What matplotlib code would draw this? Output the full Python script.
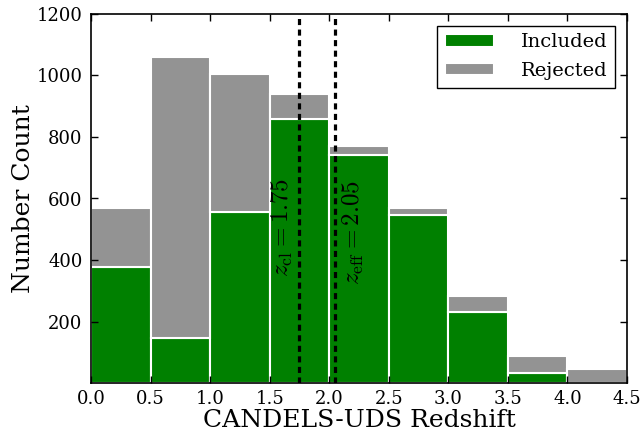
import numpy as np
import matplotlib
matplotlib.use("Agg")
import matplotlib.pyplot as plt

plt.rcParams["font.family"] = "serif"
plt.rcParams["font.serif"] = ["DejaVu Serif"]
plt.rcParams["mathtext.fontset"] = "cm"
plt.rcParams["xtick.direction"] = "in"
plt.rcParams["ytick.direction"] = "in"
plt.rcParams["xtick.top"] = True
plt.rcParams["ytick.right"] = True

# histogram bins (redshift) and counts
bin_edges = [0.0, 0.5, 1.0, 1.5, 2.0, 2.5, 3.0, 3.5, 4.0, 4.5]
included = [378, 145, 557, 858, 741, 546, 232, 34, 0]
total = [569, 1059, 1005, 939, 772, 568, 283, 89, 45]
rejected = [t - i for t, i in zip(total, included)]

z_cl = 1.75
z_eff = 2.05

edges = np.array(bin_edges)
left = edges[:-1]
width = np.diff(edges)

fig = plt.figure(figsize=(6.42, 4.36), dpi=100)
ax = fig.add_axes([91 / 642, 1 - 383 / 436, 536 / 642, 369 / 436])

ax.bar(left, included, width=width, align="edge", color="green",
       edgecolor="white", linewidth=1.5, label="Included")
ax.bar(left, rejected, width=width, bottom=included, align="edge",
       color="#939393", edgecolor="white", linewidth=1.5, label="Rejected")

ax.axvline(z_cl, color="black", ls="--", lw=2.3, dashes=(1.9, 1.4))
ax.axvline(z_eff, color="black", ls="--", lw=2.3, dashes=(1.9, 1.4))
ax.text(z_cl - 0.04, 505, r"$z_{\rm cl} = 1.75$", rotation=90,
        ha="right", va="center", fontsize=18)
ax.text(z_eff + 0.05, 490, r"$z_{\rm eff} = 2.05$", rotation=90,
        ha="left", va="center", fontsize=18)

ax.set_xlim(0, 4.5)
ax.set_ylim(0, 1200)
ax.set_xticks(np.arange(0, 4.51, 0.5))
ax.set_yticks([200, 400, 600, 800, 1000, 1200])
ax.tick_params(labelsize=13, length=5, width=1)
ax.tick_params(axis="x", pad=5)
ax.tick_params(axis="y", pad=6)
for sp in ax.spines.values():
    sp.set_linewidth(1.2)

ax.set_xlabel("CANDELS-UDS Redshift", fontsize=18, labelpad=1)
ax.set_ylabel("Number Count", fontsize=18, labelpad=1)

leg = ax.legend(loc="upper right", fontsize=14, fancybox=False,
                edgecolor="black", framealpha=1, borderaxespad=0.6,
                handlelength=2.5, handleheight=0.6, handletextpad=1.4,
                labelspacing=0.55)
leg.get_frame().set_linewidth(1.0)

fig.savefig("out.png", dpi=100)
